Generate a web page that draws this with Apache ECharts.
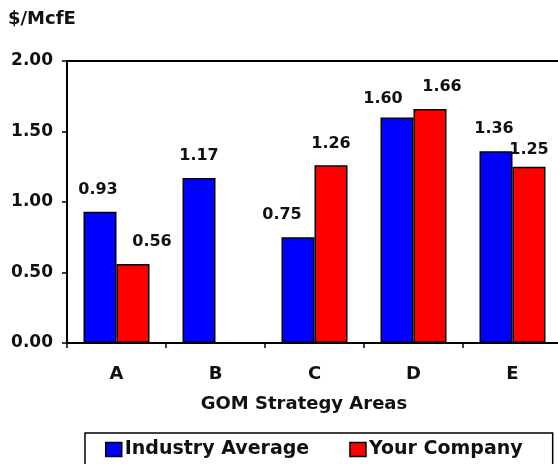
<!DOCTYPE html>
<html>
<head>
<meta charset="utf-8">
<script src="https://cdn.jsdelivr.net/npm/echarts@6/dist/echarts.min.js"></script>
<style>
  html, body { margin: 0; padding: 0; background: #fff; }
  #chart { width: 558px; height: 464px; }
</style>
</head>
<body>
<div id="chart"></div>
<script>
// GOM strategy areas and finding cost values ($/McfE)
const categories = ['A', 'B', 'C', 'D', 'E'];
const industryAverage = [0.93, 1.17, 0.75, 1.60, 1.36];
const yourCompany = [0.56, null, 1.26, 1.66, 1.25];
const yTicks = [0, 0.5, 1.0, 1.5, 2.0];

// Label nudges so neighbouring value labels don't collide
const industryLabelOffsets = [[-2, 0], [0, 0], [-16, 0], [-14, 3], [-2, 0]];
const companyLabelOffsets = [[19, 0], [0, 0], [0, 1], [12, 0], [0, 5]];

const FONT = 'DejaVu Sans';

function withLabels(values, offsets) {
  return values.map((v, i) => v == null ? '-' : {
    value: v,
    label: { offset: offsets[i] }
  });
}

const chart = echarts.init(document.getElementById('chart'), null, { renderer: 'canvas' });

const barStyle = (color) => ({
  color: color,
  borderColor: '#000',
  borderWidth: 1.5
});

const valueLabel = {
  show: true,
  position: 'top',
  distance: 14,
  color: '#111',
  fontFamily: FONT,
  fontWeight: 'bold',
  fontSize: 16,
  formatter: (p) => Number(p.value).toFixed(2)
};

chart.setOption({
  animation: false,
  backgroundColor: '#fff',
  title: [
    {
      text: '$/McfE',
      left: 8,
      top: 10,
      padding: 0,
      textStyle: { fontFamily: FONT, fontWeight: 'bold', fontSize: 18, color: '#111' }
    },
    {
      text: 'GOM Strategy Areas',
      left: 304,
      top: 395,
      textAlign: 'center',
      padding: 0,
      textStyle: { fontFamily: FONT, fontWeight: 'bold', fontSize: 18, color: '#111' }
    }
  ],
  grid: {
    left: 67,
    top: 61,
    width: 495,
    height: 282,
    show: true,
    borderColor: '#000',
    borderWidth: 2,
    containLabel: false,
    outerBoundsMode: 'none'
  },
  legend: {
    left: 85,
    top: 433,
    padding: [7, 30, 20, 20],
    itemGap: 40,
    itemWidth: 16,
    itemHeight: 14,
    borderColor: '#000',
    borderWidth: 1.5,
    icon: 'rect',
    itemStyle: { borderColor: '#000', borderWidth: 1.5 },
    textStyle: { fontFamily: FONT, fontWeight: 'bold', fontSize: 19, color: '#111', padding: [0, 0, 0, -2] },
    data: ['Industry Average', 'Your Company']
  },
  xAxis: {
    type: 'category',
    data: categories,
    axisLine: { show: true, lineStyle: { color: '#000', width: 2 } },
    axisTick: { show: true, length: 5, lineStyle: { color: '#000', width: 1.5 } },
    axisLabel: {
      margin: 22,
      color: '#111',
      fontFamily: FONT,
      fontWeight: 'bold',
      fontSize: 18
    },
    splitLine: { show: false }
  },
  yAxis: {
    type: 'value',
    min: yTicks[0],
    max: yTicks[yTicks.length - 1],
    interval: 0.5,
    axisLine: { show: true, lineStyle: { color: '#000', width: 2 } },
    axisTick: { show: true, length: 5, lineStyle: { color: '#000', width: 1.5 } },
    axisLabel: {
      margin: 14,
      color: '#111',
      fontFamily: FONT,
      fontWeight: 'bold',
      fontSize: 17,
      formatter: (v) => v.toFixed(2)
    },
    splitLine: { show: false }
  },
  series: [
    {
      name: 'Industry Average',
      type: 'bar',
      barWidth: 33,
      barGap: '0%',
      itemStyle: barStyle('#0000ff'),
      label: valueLabel,
      data: withLabels(industryAverage, industryLabelOffsets)
    },
    {
      name: 'Your Company',
      type: 'bar',
      barWidth: 33,
      barGap: '0%',
      itemStyle: barStyle('#ff0000'),
      label: valueLabel,
      data: withLabels(yourCompany, companyLabelOffsets)
    }
  ]
});
</script>
</body>
</html>
